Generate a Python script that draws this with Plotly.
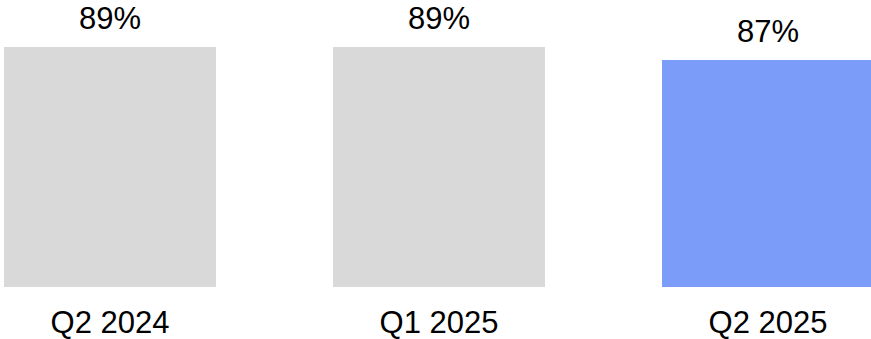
import plotly.graph_objects as go

categories = ["Q2 2024", "Q1 2025", "Q2 2025"]
values = [89, 89, 87]
labels = ["89%", "89%", "87%"]
colors = ["#d9d9d9", "#d9d9d9", "#7b9cf8"]

fig = go.Figure(go.Bar(
    x=categories, y=values, marker_color=colors, marker_line_width=0,
    width=212/329,
))

for c, v, t in zip(categories, values, labels):
    fig.add_annotation(x=c, y=v, text=t, showarrow=False, yanchor="bottom",
                       yshift=9, font=dict(family="Liberation Sans, Arial", size=31, color="#000"))

fig.update_layout(
    width=871, height=339, margin=dict(l=0, r=0, t=0, b=52, autoexpand=False),
    paper_bgcolor="white", plot_bgcolor="white", showlegend=False,
    font=dict(family="Liberation Sans, Arial", size=31, color="#000"),
)
fig.update_xaxes(range=[-110/329, -110/329 + 871/329], showgrid=False, showline=False,
                 ticks="", ticklabelstandoff=14, tickfont=dict(size=31), automargin=False)
fig.update_yaxes(range=[89 - 240/6.5, 89 - 240/6.5 + 287/6.5], visible=False, automargin=False)

fig.write_html("out.html")
